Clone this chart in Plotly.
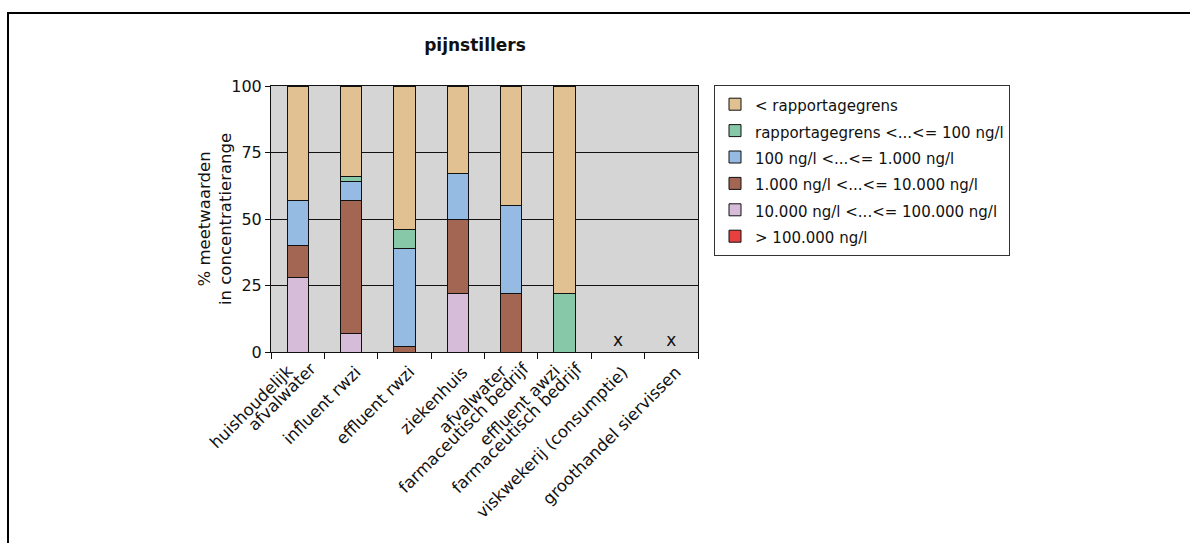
import plotly.graph_objects as go

categories = [
    "huishoudelijk<br>afvalwater",
    "influent rwzi",
    "effluent rwzi",
    "ziekenhuis",
    "afvalwater<br>farmaceutisch bedrijf",
    "effluent awzi<br>farmaceutisch bedrijf",
    "viskwekerij (consumptie)",
    "groothandel siervissen",
]

# stacked from bottom to top
series_names = [
    "> 100.000 ng/l",
    "10.000 ng/l <...<= 100.000 ng/l",
    "1.000 ng/l <...<= 10.000 ng/l",
    "100 ng/l <...<= 1.000 ng/l",
    "rapportagegrens <...<= 100 ng/l",
    "< rapportagegrens",
]
series_colors = ["#E8403F", "#D6BCD8", "#A36652", "#96BBE2", "#86C8A8", "#E1C192"]

v_gt100000 = [0, 0, 0, 0, 0, 0, None, None]
v_10000_100000 = [28, 7, 0, 22, 0, 0, None, None]
v_1000_10000 = [12, 50, 2, 28, 22, 0, None, None]
v_100_1000 = [17, 7, 37, 17, 33, 0, None, None]
v_rg_100 = [0, 2, 7, 0, 0, 22, None, None]
v_lt_rg = [43, 34, 54, 33, 45, 78, None, None]
series_values = [v_gt100000, v_10000_100000, v_1000_10000, v_100_1000, v_rg_100, v_lt_rg]

# categories without data marked with "x"
nodata_cats = ["viskwekerij (consumptie)", "groothandel siervissen"]
nodata_y = [4, 4]

y_ticks = [0, 25, 50, 75, 100]
title_text = "pijnstillers"
y_title = "% meetwaarden<br>in concentratierange"

font_family = "DejaVu Sans"
tick_size = 16.5

fig = go.Figure()
for name, color, vals in zip(series_names, series_colors, series_values):
    label = name.replace("<", "&lt;").replace(">", "&gt;")
    fig.add_trace(go.Bar(
        x=categories, y=vals,
        name="<span style='font-size:15px'>" + label + "</span>",
        marker=dict(color=color, line=dict(color="#111111", width=1)),
    ))

fig.add_trace(go.Scatter(
    x=nodata_cats, y=nodata_y, mode="text", text=["x"] * len(nodata_cats),
    textfont=dict(size=17, color="#111111", family=font_family),
    showlegend=False, hoverinfo="skip",
))

W, H = 1190, 543
L, R, T, B = 271, 1190 - 698, 86, 543 - 352
pw, ph = W - L - R, H - T - B

def px_to_paper_x(p):
    return (p - L) / pw

def px_to_paper_y(p):
    return (H - B - p) / ph

# rotated category labels (one annotation per text line, Excel-like layout)
d = (1.3 * tick_size + 2) / (2 * 2 ** 0.5)
single_end = (8, 368)
multi_end = [(-6, 367), (17, 364)]
for i, cat in enumerate(categories):
    lines = cat.split("<br>")
    ends = [single_end] if len(lines) == 1 else multi_end
    for line, (ex, ey) in zip(lines, ends):
        fig.add_annotation(
            x=i, xref="x", y=0, yref="paper", text=line, showarrow=False,
            textangle=-45, xanchor="right", yanchor="top",
            xshift=ex + d, yshift=-(ey - d - (H - B)),
            font=dict(size=tick_size, family=font_family, color="#111111"),
        )

# y-axis title
fig.add_annotation(
    x=px_to_paper_x(215), xref="paper", y=px_to_paper_y(219), yref="paper",
    text=y_title, showarrow=False, textangle=-90, xanchor="center", yanchor="middle",
    font=dict(size=16.5, family=font_family, color="#111111"),
)

# outer frame (partially visible)
fig.add_shape(type="rect", xref="paper", yref="paper",
              x0=px_to_paper_x(8), x1=px_to_paper_x(1300),
              y0=px_to_paper_y(700), y1=px_to_paper_y(13),
              line=dict(color="#000000", width=2), layer="above")

fig.update_layout(
    width=W, height=H,
    margin=dict(l=L, r=R, t=T, b=B, pad=0),
    barmode="stack", bargap=0.6,
    paper_bgcolor="white", plot_bgcolor="#D5D5D5",
    font=dict(family=font_family, size=15, color="#111111"),
    title=dict(text="<b>" + title_text + "</b>", x=px_to_paper_x(475), xref="paper",
               xanchor="center", y=1 - 45 / H, yanchor="middle",
               font=dict(size=17, family=font_family)),
    legend=dict(
        x=px_to_paper_x(714), y=px_to_paper_y(85), xanchor="left", yanchor="top",
        traceorder="reversed", bordercolor="#333333", borderwidth=1,
        font=dict(size=18, family=font_family), bgcolor="white",
        itemwidth=30,
    ),
    showlegend=True,
)

fig.update_xaxes(
    type="category", categoryorder="array", categoryarray=categories,
    range=[-0.5, len(categories) - 0.5],
    tickson="boundaries", ticks="outside", ticklen=6, showticklabels=False,
    tickcolor="#111111", showline=True, linecolor="#111111", linewidth=1,
    mirror=True, showgrid=False,
)
fig.update_yaxes(
    range=[0, 100], tickvals=y_ticks, ticks="outside", ticklen=5,
    tickcolor="#111111", showline=True, linecolor="#111111", linewidth=1,
    mirror=True, showgrid=True, gridcolor="#111111", gridwidth=1, zeroline=False,
    tickfont=dict(size=16),
)

fig.write_html("out.html")
